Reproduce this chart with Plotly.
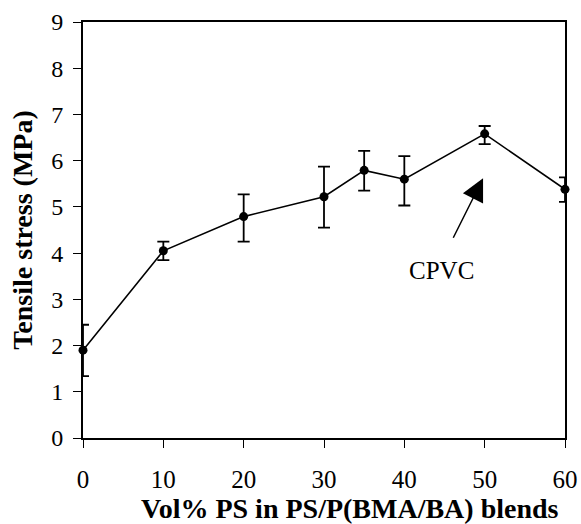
import plotly.graph_objects as go

vol_ps = [0, 10, 20, 30, 35, 40, 50, 60]
stress = [1.9, 4.05, 4.79, 5.22, 5.79, 5.6, 6.58, 5.38]
err_plus = [0.55, 0.2, 0.48, 0.65, 0.42, 0.5, 0.17, 0.26]
err_minus = [0.56, 0.2, 0.54, 0.67, 0.44, 0.57, 0.22, 0.27]

x_ticks = [0, 10, 20, 30, 40, 50, 60]
y_ticks = list(range(0, 10))

FONT = "Liberation Serif"

fig = go.Figure()
fig.add_trace(go.Scatter(
    x=vol_ps, y=stress, mode="lines+markers",
    line=dict(color="black", width=1.6),
    marker=dict(color="black", size=9),
    error_y=dict(type="data", symmetric=False, array=err_plus, arrayminus=err_minus,
                 color="black", thickness=1.8, width=6),
    cliponaxis=False, showlegend=False,
))

fig.add_annotation(x=49.8, y=5.62, ax=46.0, ay=4.3, xref="x", yref="y", axref="x", ayref="y",
                   showarrow=True, arrowhead=2, arrowsize=3, arrowwidth=1.5, arrowcolor="black", text="")
fig.add_annotation(x=44.6, y=3.63, xref="x", yref="y", text="CPVC", showarrow=False,
                   font=dict(family=FONT, size=25, color="black"))
fig.add_annotation(x=0.554, y=-0.17, xref="paper", yref="paper", yanchor="middle", xanchor="center",
                   text="<b>Vol% PS in PS/P(BMA/BA) blends</b>", showarrow=False,
                   font=dict(family=FONT, size=28, color="black"))

fig.update_layout(
    width=581, height=524,
    margin=dict(l=83, r=16, t=22, b=86),
    paper_bgcolor="white", plot_bgcolor="white",
    font=dict(family=FONT, color="black"),
    xaxis=dict(range=[0, 60], tickvals=x_ticks, ticks="outside", ticklen=8, tickwidth=1, tickcolor="black",
               showline=True, linecolor="black", linewidth=2, mirror=True, showgrid=False, zeroline=False,
               tickfont=dict(family=FONT, size=25, color="black"), ticklabelstandoff=10, automargin=False),
    yaxis=dict(range=[0, 9], tickvals=y_ticks, ticks="outside", ticklen=8, tickwidth=1, tickcolor="black",
               showline=True, linecolor="black", linewidth=2, mirror=True, showgrid=False, zeroline=False,
               tickfont=dict(family=FONT, size=24, color="black"), ticklabelstandoff=5, automargin=False,
               title=dict(text="<b>Tensile stress (MPa)</b>", font=dict(family=FONT, size=28, color="black"), standoff=10)),
)

fig.write_html("out.html")
